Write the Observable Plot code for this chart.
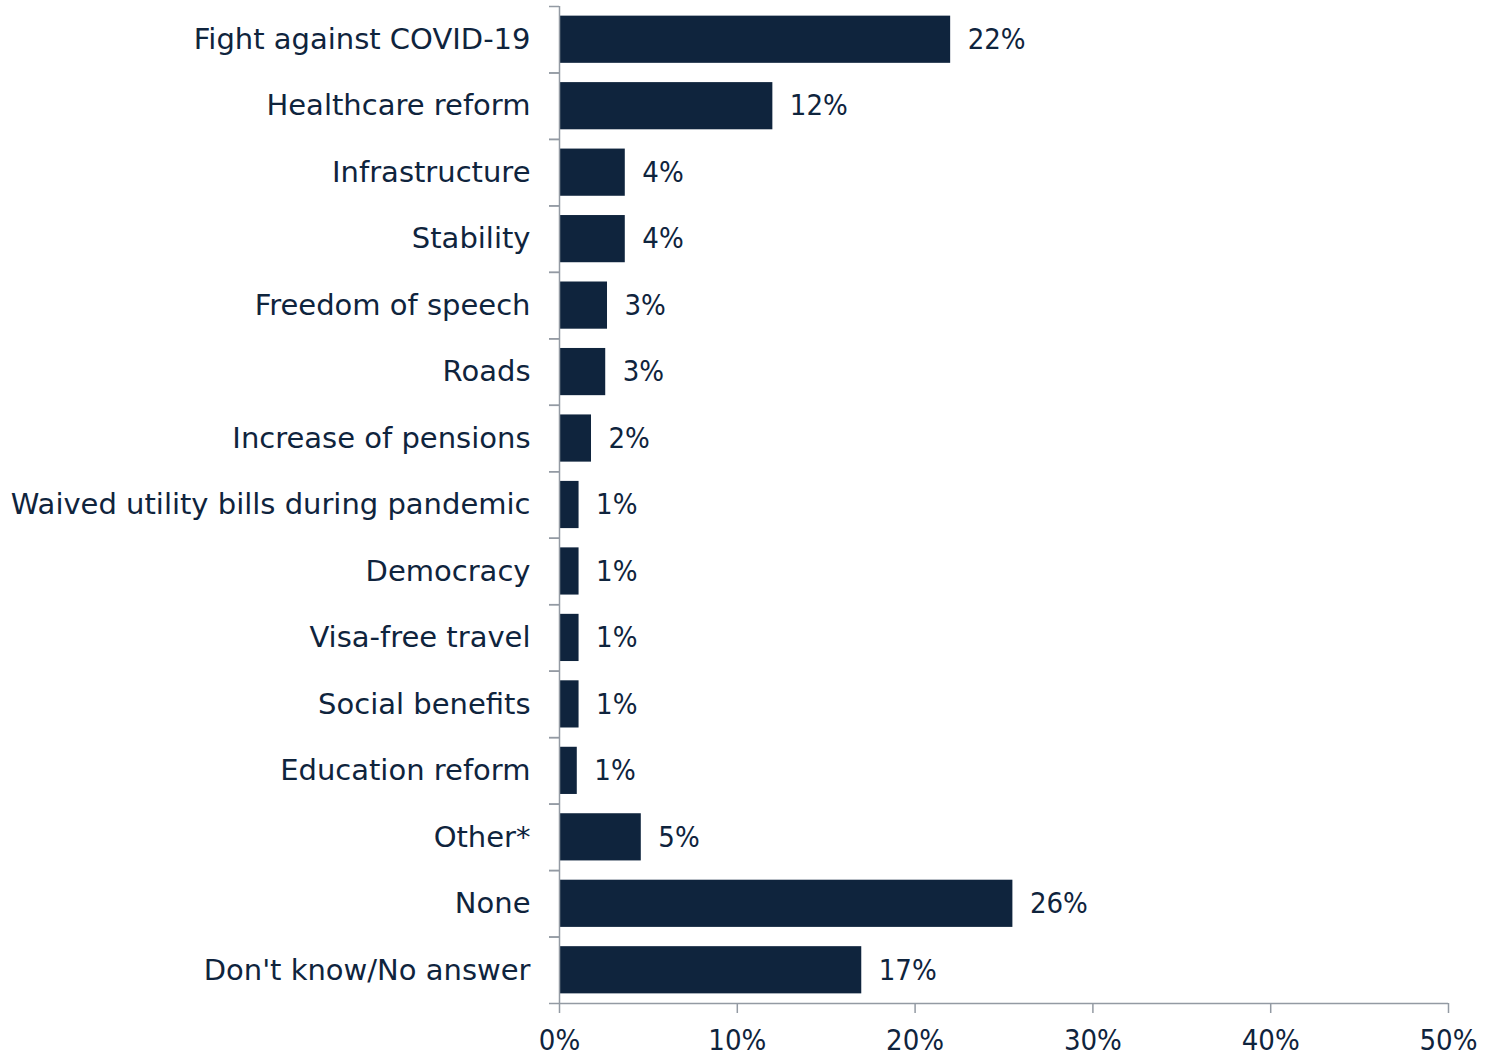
<!DOCTYPE html>
<html>
<head>
<meta charset="utf-8">
<script src="https://cdn.jsdelivr.net/npm/d3@7"></script>
<script src="https://cdn.jsdelivr.net/npm/@observablehq/plot@0.6"></script>
<style>
  html, body { margin: 0; padding: 0; background: #fff; }
  #chart svg { display: block; }
</style>
</head>
<body>
<div id="chart"></div>
<script>
const categories = [
  "Fight against COVID-19",
  "Healthcare reform",
  "Infrastructure",
  "Stability",
  "Freedom of speech",
  "Roads",
  "Increase of pensions",
  "Waived utility bills during pandemic",
  "Democracy",
  "Visa-free travel",
  "Social benefits",
  "Education reform",
  "Other*",
  "None",
  "Don't know/No answer"
];
const values = [22.0, 12.0, 3.7, 3.7, 2.7, 2.6, 1.8, 1.1, 1.1, 1.1, 1.1, 1.0, 4.6, 25.5, 17.0];
const valueLabels = ["22%", "12%", "4%", "4%", "3%", "3%", "2%", "1%", "1%", "1%", "1%", "1%", "5%", "26%", "17%"];
const xTicks = [0, 10, 20, 30, 40, 50];

const data = categories.map((c, i) => ({category: c, value: values[i], label: valueLabels[i]}));

const W = 1492, H = 1058;
const mt = 6, mb = 55, ml = 559, mr = 44;
const step = (H - mt - mb) / categories.length;
const navy = "#0f243d";
const grey = "#939aa3";
const font = "'DejaVu Sans', sans-serif";
const numFont = "'DejaVu Sans Condensed', 'DejaVu Sans', sans-serif";
const fs = 29;

const chart = Plot.plot({
  width: W,
  height: H,
  marginTop: mt,
  marginBottom: mb,
  marginLeft: ml,
  marginRight: mr,
  style: {fontFamily: font, fontSize: fs + "px", color: navy, background: "#fff"},
  x: {domain: [0, 50]},
  y: {domain: categories, paddingInner: 0.29, paddingOuter: 0.145, round: false},
  marks: [
    Plot.barX(data, {y: "category", x: "value", fill: navy}),
    Plot.text(data, {y: "category", x: "value", text: "label", textAnchor: "start", dx: 17, fill: navy, fontSize: fs, fontFamily: numFont}),
    Plot.ruleX([0], {stroke: grey, strokeWidth: 1.5}),
    Plot.ruleY([categories[categories.length - 1]], {y: d => d, dy: step / 2, stroke: grey, strokeWidth: 1.5}),
    Plot.axisY({tickSize: 10, text: null, dy: -step / 2, stroke: grey, strokeWidth: 1.5, label: null}),
    Plot.axisY({tickSize: 10, text: null, dy: step / 2, stroke: grey, strokeWidth: 1.5, label: null}),
    Plot.axisY({tickSize: 0, tickPadding: 29, fill: navy, fontSize: fs, label: null}),
    Plot.axisX({ticks: xTicks, tickSize: 10, tickPadding: 16, tickFormat: d => d + "%", stroke: grey, strokeWidth: 1.5, fill: navy, fontSize: fs, fontFamily: numFont, label: null})
  ]
});
document.getElementById("chart").appendChild(chart);
</script>
</body>
</html>
